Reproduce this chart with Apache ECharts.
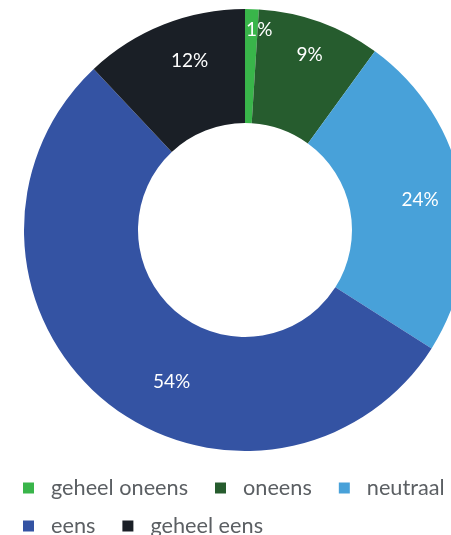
<!DOCTYPE html>
<html>
<head>
<meta charset="utf-8">
<script src="https://cdn.jsdelivr.net/npm/echarts@6/dist/echarts.min.js"></script>
<style>
  html, body { margin: 0; padding: 0; background: #ffffff; }
  #chart { width: 451px; height: 535px; }
</style>
</head>
<body>
<div id="chart"></div>
<script>
// Answer categories and their shares (percent)
const categories = ['geheel oneens', 'oneens', 'neutraal', 'eens', 'geheel eens'];
const shares = [1, 9, 24, 54, 12];
const colors = ['#39b54a', '#265c2e', '#48a1d9', '#3453a3', '#1a1f26'];
// Legend rows
const legendRow1 = categories.slice(0, 3);
const legendRow2 = categories.slice(3);
// Nudges for the in-slice percentage labels
const labelOffsets = [[9, -33], [8, -18], [11, 1], [33, 23], [6, -14]];

const chart = echarts.init(document.getElementById('chart'), null, { renderer: 'canvas' });

const data = categories.map((name, i) => ({
  name: name,
  value: shares[i],
  itemStyle: { color: colors[i] },
  label: { offset: labelOffsets[i] }
}));

const legendBase = {
  left: 23,
  padding: 0,
  orient: 'horizontal',
  icon: 'rect',
  itemWidth: 11,
  itemHeight: 11,
  itemGap: 27,
  selectedMode: false,
  textStyle: {
    fontFamily: 'Lato',
    fontSize: 21.7,
    lineHeight: 20,
    color: '#5b5f63',
    padding: [0, 0, 0, 12]
  }
};

chart.setOption({
  animation: false,
  textStyle: { fontFamily: 'Lato' },
  legend: [
    Object.assign({}, legendBase, { top: 477, data: legendRow1 }),
    Object.assign({}, legendBase, { top: 515, data: legendRow2 })
  ],
  series: [{
    type: 'pie',
    center: [245, 230],
    radius: [107, 221],
    startAngle: 90,
    clockwise: true,
    silent: true,
    label: {
      show: true,
      position: 'inside',
      formatter: '{c}%',
      color: '#ffffff',
      fontFamily: 'Lato',
      fontSize: 19
    },
    labelLine: { show: false },
    data: data
  }]
});
</script>
</body>
</html>
